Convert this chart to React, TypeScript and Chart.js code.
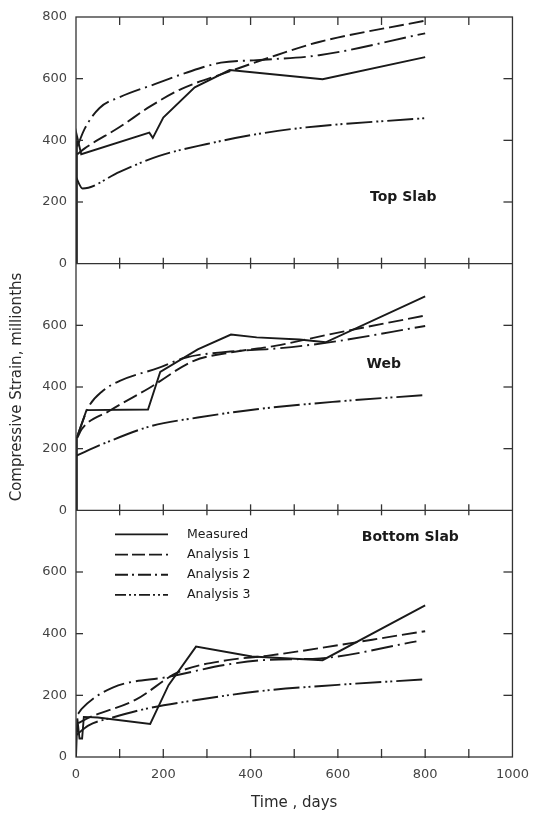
import React, { useEffect, useRef } from 'react';
import { Chart, registerables } from 'chart.js';

Chart.register(...registerables);

// ---------- data (days, millionths) ----------
const seriesNames = ['Measured', 'Analysis 1', 'Analysis 2', 'Analysis 3'];
const panelNames = ['Top Slab', 'Web', 'Bottom Slab'];
const xTicks = [0, 200, 400, 600, 800, 1000];
const yTicks = [0, 200, 400, 600, 800];

const topMeasured = [[0, 0], [2, 415], [12, 355], [168, 425], [176, 408], [200, 474], [272, 572], [352, 628], [565, 598], [800, 670]];
const topAnalysis1 = [[3, 355], [20, 374], [100, 443], [170, 510], [242, 567], [347, 621], [459, 676], [557, 719], [800, 788]];
const topAnalysis2 = [[3, 380], [20, 438], [54, 505], [100, 540], [182, 583], [250, 618], [332, 652], [414, 660], [557, 676], [800, 747]];
const topAnalysis3 = [[0, 280], [15, 244], [100, 298], [189, 349], [300, 388], [414, 420], [527, 442], [800, 472]];

const webMeasured = [[0, 0], [2, 236], [24, 325], [165, 327], [193, 449], [279, 522], [355, 570], [414, 561], [512, 554], [572, 545], [800, 694]];
const webAnalysis1 = [[3, 235], [13, 263], [77, 323], [167, 396], [270, 485], [354, 512], [459, 534], [572, 568], [800, 632]];
const webAnalysis2 = [[3, 240], [28, 333], [61, 387], [99, 419], [189, 462], [250, 495], [354, 515], [459, 525], [572, 543], [800, 598]];
const webAnalysis3 = [[0, 177], [61, 215], [174, 274], [279, 301], [414, 328], [600, 353], [800, 374]];

const botMeasured = [[0, 0], [3, 125], [8, 60], [14, 60], [18, 130], [50, 128], [170, 107], [212, 233], [275, 358], [403, 326], [565, 314], [800, 492]];
const botAnalysis1 = [[5, 110], [32, 129], [137, 186], [234, 275], [347, 314], [437, 328], [800, 408]];
const botAnalysis2 = [[5, 140], [13, 156], [84, 225], [212, 260], [347, 300], [437, 315], [560, 320], [780, 375]];
const botAnalysis3 = [[0, 70], [28, 102], [84, 128], [159, 156], [272, 184], [437, 216], [600, 234], [800, 252]];

// ---------- styles ----------
const INK = '#1a1a1a';
const dashPatterns = [[], [15, 5], [22, 5, 2, 5], [26, 4, 2, 3, 2, 4]];
const legendDash = [[], [13, 4], [13, 4, 2, 4], [11, 3, 2, 3, 2, 3]];
const FONT = '"DejaVu Sans", sans-serif';

const toPts = (arr: number[][]) => arr.map(([x, y]) => ({ x, y }));

function makeSet(arr: number[][], idx: number, axis: string) {
  return {
    label: seriesNames[idx],
    data: toPts(arr),
    yAxisID: axis,
    borderColor: INK,
    borderWidth: 1.9,
    borderDash: dashPatterns[idx],
    pointRadius: 0,
    fill: false,
    tension: 0,
    cubicInterpolationMode: idx === 0 ? 'default' : 'monotone',
  };
}

const framePlugin = {
  id: 'frame',
  afterDatasetsDraw(chart: any) {
    const { ctx, chartArea: a, scales } = chart;
    const x = scales.x;
    const panels = [scales.yTop, scales.yMid, scales.yBot];
    const line = (x1: number, y1: number, x2: number, y2: number) => {
      ctx.beginPath();
      ctx.moveTo(x1, y1);
      ctx.lineTo(x2, y2);
      ctx.stroke();
    };
    ctx.save();
    ctx.setLineDash([]);
    ctx.strokeStyle = '#333';
    ctx.lineWidth = 1.3;
    ctx.strokeRect(a.left, a.top, a.right - a.left, a.bottom - a.top);
    line(a.left, scales.yTop.bottom, a.right, scales.yTop.bottom);
    line(a.left, scales.yMid.bottom, a.right, scales.yMid.bottom);
    for (let d = 100; d < 1000; d += 100) {
      const px = x.getPixelForValue(d);
      line(px, a.top, px, a.top + 8);
      line(px, scales.yTop.bottom - 6, px, scales.yTop.bottom + 5);
      line(px, scales.yMid.bottom - 6, px, scales.yMid.bottom + 5);
      line(px, a.bottom - 8, px, a.bottom + 1);
    }
    panels.forEach((p: any) => {
      [200, 400, 600].forEach((v) => {
        const py = p.getPixelForValue(v);
        line(a.left, py, a.left + 7, py);
        line(a.right - 9, py, a.right, py);
      });
    });

    // panel labels
    ctx.fillStyle = '#1a1a1a';
    ctx.font = `bold 14px ${FONT}`;
    ctx.textAlign = 'center';
    ctx.textBaseline = 'middle';
    const labelPos = [[750, 215], [705, 474], [766, 713]];
    panels.forEach((p: any, i: number) => {
      ctx.fillText(panelNames[i], x.getPixelForValue(labelPos[i][0]), p.getPixelForValue(labelPos[i][1]));
    });

    // legend
    ctx.font = `12.5px ${FONT}`;
    ctx.textAlign = 'left';
    ctx.lineWidth = 1.8;
    ctx.strokeStyle = INK;
    const top = scales.yBot.top;
    seriesNames.forEach((name, i) => {
      const y = top + 24 + i * 20.2;
      ctx.setLineDash(legendDash[i]);
      line(a.left + 39, y, a.left + 92, y);
      ctx.setLineDash([]);
      ctx.fillText(name, a.left + 111, y);
    });
    ctx.restore();
  },
};

function yAxis(showTop: boolean, title: boolean) {
  return {
    type: 'linear',
    position: 'left',
    stack: 'panels',
    stackWeight: 1,
    min: 0,
    max: 800,
    grid: { display: false, drawTicks: false },
    border: { display: false },
    ticks: {
      stepSize: 200,
      padding: 9,
      color: '#444',
      font: { size: 13, family: FONT },
      callback: (v: number) => (yTicks.includes(v) && (showTop || v !== 800) ? String(v) : ''),
    },
    title: {
      display: title,
      text: 'Compressive Strain, millionths',
      color: '#2a2a2a',
      font: { size: 15, family: FONT },
      padding: { top: 8, bottom: 0 },
    },
    afterFit: (s: any) => {
      s.width = 76;
    },
  };
}

export default function App() {
  const ref = useRef<HTMLCanvasElement | null>(null);
  useEffect(() => {
    if (!ref.current) return;
    Chart.defaults.font.family = FONT;
    const chart = new Chart(ref.current, {
      type: 'line',
      data: {
        datasets: [
          makeSet(topMeasured, 0, 'yTop'),
          makeSet(topAnalysis1, 1, 'yTop'),
          makeSet(topAnalysis2, 2, 'yTop'),
          makeSet(topAnalysis3, 3, 'yTop'),
          makeSet(webMeasured, 0, 'yMid'),
          makeSet(webAnalysis1, 1, 'yMid'),
          makeSet(webAnalysis2, 2, 'yMid'),
          makeSet(webAnalysis3, 3, 'yMid'),
          makeSet(botMeasured, 0, 'yBot'),
          makeSet(botAnalysis1, 1, 'yBot'),
          makeSet(botAnalysis2, 2, 'yBot'),
          makeSet(botAnalysis3, 3, 'yBot'),
        ] as any,
      },
      options: {
        responsive: false,
        animation: false,
        events: [],
        layout: { padding: { top: 17, right: 19, left: 0, bottom: 0 } },
        plugins: { legend: { display: false }, tooltip: { enabled: false } },
        scales: {
          x: {
            type: 'linear',
            min: 0,
            max: 1000,
            grid: { display: false, drawTicks: false },
            border: { display: false },
            ticks: {
              stepSize: 200,
              padding: 10,
              color: '#444',
              maxRotation: 0,
              autoSkip: false,
              font: { size: 13, family: FONT },
              callback: (v: number) => (xTicks.includes(v) ? String(v) : ''),
            },
            title: {
              display: true,
              text: 'Time , days',
              color: '#2a2a2a',
              font: { size: 15, family: FONT },
              padding: { top: 4, bottom: 1 },
            },
            afterFit: (s: any) => {
              s.height = 56;
            },
          },
          yBot: yAxis(false, false),
          yMid: yAxis(false, true),
          yTop: yAxis(true, false),
        } as any,
      },
      plugins: [framePlugin],
    });
    return () => chart.destroy();
  }, []);
  return (
    <div style={{ position: 'absolute', left: 0, top: 0, width: 539, height: 813, background: '#fff' }}>
      <canvas ref={ref} width={539} height={813} style={{ display: 'block' }} />
    </div>
  );
}
